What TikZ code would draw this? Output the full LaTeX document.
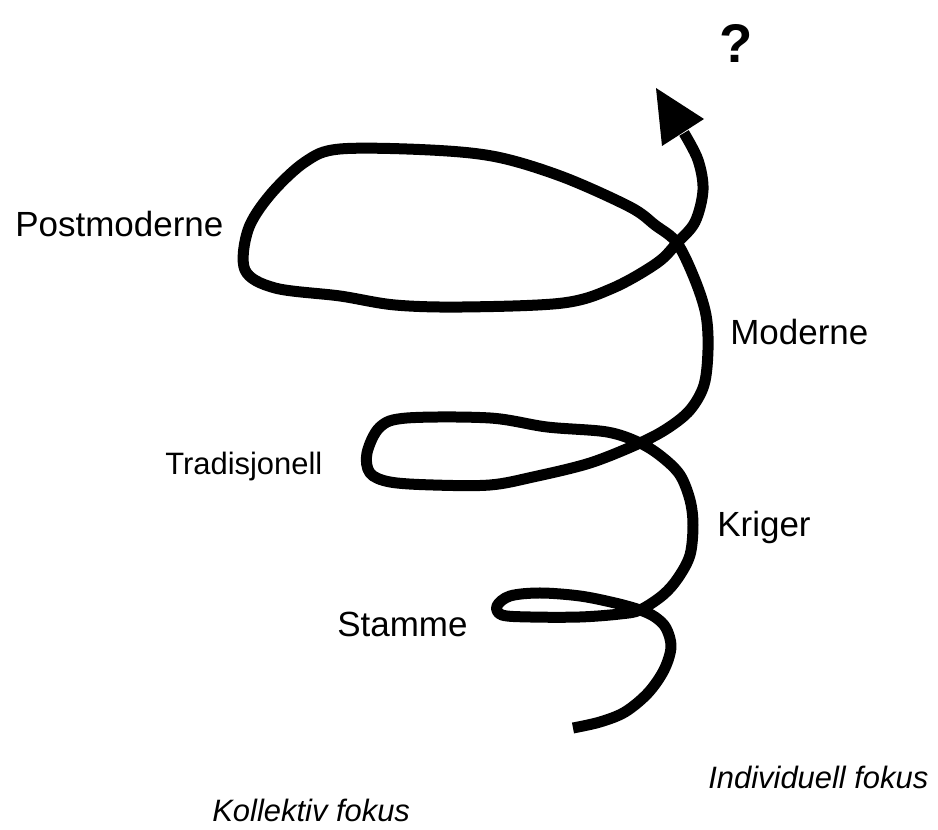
\documentclass[tikz,border=0pt]{standalone}
\usepackage{fontspec}
\setmainfont{Liberation Sans}
\begin{document}
\begin{tikzpicture}[x=0.02cm,y=-0.02cm,
  spiral/.style={line width=0.22cm,line join=round,line cap=butt},
  lbl/.style={anchor=base west,inner sep=0pt,font=\fontsize{19.9}{24}\selectfont},
  lblsmall/.style={anchor=base west,inner sep=0pt,font=\fontsize{17.6}{21}\selectfont},
  focus/.style={anchor=base west,inner sep=0pt,font=\fontsize{17.6}{21}\selectfont\itshape}]
\useasboundingbox (0,0) rectangle (938,830);
\draw[spiral] plot[smooth,tension=0.55] coordinates {
 (573,728) (600,722) (625,712) (648,693) (664,670) (671,647) (666,628) (655,617)
 (640,610) (615,603) (580,596) (540,593) (510,596) (497,606) (502,615) (530,617)
 (580,617) (620,614) (640,610) (663,595) (678,578) (690,555) (693,525) (690,500)
 (680,475) (662,457) (640,443) (607,432) (547,427) (490,418) (407,418) (380,427)
 (367,453) (370,473) (390,482) (433,485) (490,485) (533,477) (590,463) (640,443)
 (668,428) (690,410) (704,385) (708,350) (706,315) (695,280) (677,243) (655,225)
 (630,207) (563,177) (497,157) (430,150) (340,149) (305,162) (270,195) (248,230)
 (245,270) (275,288) (340,296) (395,305) (463,307) (563,303) (613,288) (657,263)
 (677,243) (695,222) (703,190) (698,160) (684,133)};
\fill (656,88) -- (704,119) -- (662,146) -- cycle;
\node[anchor=base,inner sep=0pt,font=\fontsize{31}{36}\selectfont\bfseries] (q) at (736,63) {?};
\node[lbl] (post) at (15,237) {Postmoderne};
\node[lbl] (mod) at (730,345) {Moderne};
\node[lblsmall] (trad) at (165,475) {Tradisjonell};
\node[lbl] (krig) at (717,537) {Kriger};
\node[lbl] (stam) at (337,637) {Stamme};
\node[focus] (koll) at (212,822) {Kollektiv fokus};
\node[focus] (indiv) at (708,789) {Individuell fokus};
\end{tikzpicture}
\end{document}
